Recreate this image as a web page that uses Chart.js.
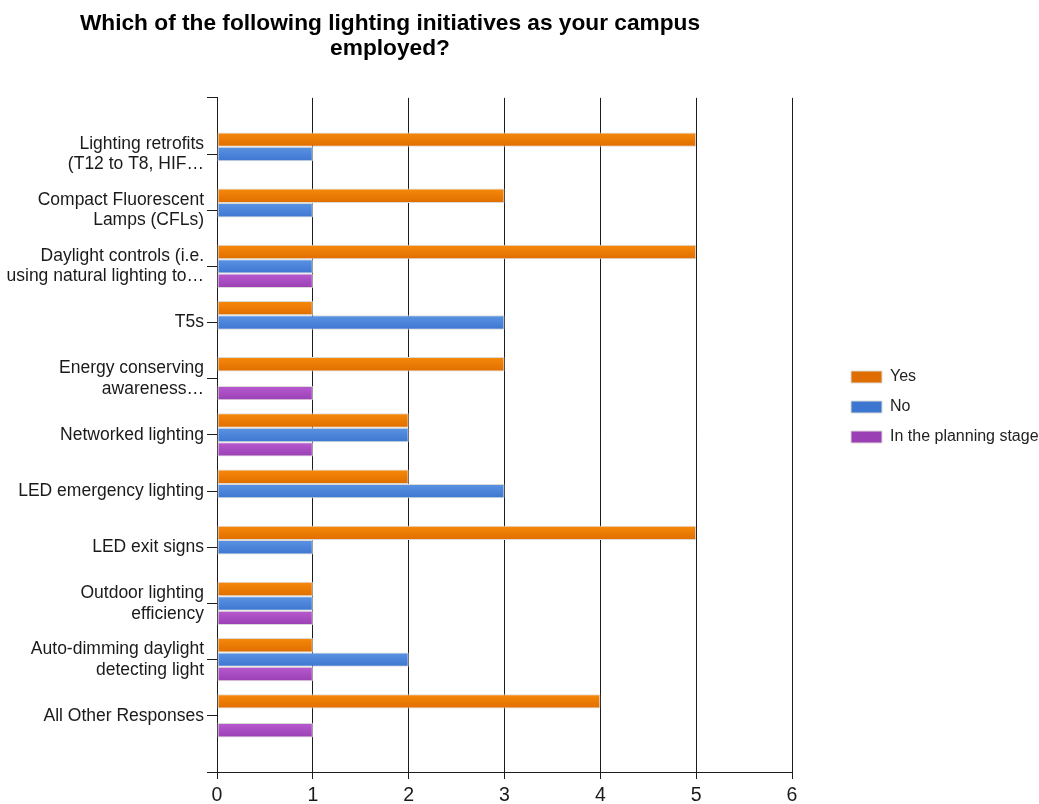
<!DOCTYPE html>
<html>
<head>
<meta charset="utf-8">
<title>Lighting initiatives</title>
<script src="https://cdn.jsdelivr.net/npm/chart.js@4.4.1/dist/chart.umd.min.js"></script>
<style>
  html, body { margin: 0; padding: 0; background: #ffffff; }
  #wrap { width: 1039px; height: 804px; }
</style>
</head>
<body>
<div id="wrap"><canvas id="chart" width="1039" height="804"></canvas></div>
<script>
// Survey answers per lighting initiative (null = no responses in that group)
const categories = [
  ['Lighting retrofits', '(T12 to T8, HIF…'],
  ['Compact Fluorescent', 'Lamps (CFLs)'],
  ['Daylight controls (i.e.', 'using natural lighting to…'],
  'T5s',
  ['Energy conserving', 'awareness…'],
  'Networked lighting',
  'LED emergency lighting',
  'LED exit signs',
  ['Outdoor lighting', 'efficiency'],
  ['Auto-dimming daylight', 'detecting light'],
  'All Other Responses'
];
const seriesNames = ['Yes', 'No', 'In the planning stage'];
const yesCounts      = [5, 3, 5, 1, 3, 2, 2, 5, 1, 1, 4];
const noCounts       = [1, 1, 1, 3, null, 2, 3, 1, 1, 2, null];
const planningCounts = [null, null, 1, null, 1, 1, null, null, 1, 1, 1];
const countTicks     = [0, 1, 2, 3, 4, 5, 6];

// Fill colours: top of bar, bottom of bar, legend swatch
const palette = [
  { top: '#f68a0a', bottom: '#e06d00', flat: '#ef7d00' },
  { top: '#5b93e3', bottom: '#3d76d0', flat: '#4a84da' },
  { top: '#b85ad0', bottom: '#9a3fb4', flat: '#a84bc4' }
];

const CAT_PCT = 0.77;
const FONT = 'Liberation Sans, Arial, sans-serif';
const AXIS_COLOR = '#1c1c1c';

// Vertical gradient for each bar, following its slot in the group
function barFill(colors) {
  return (ctx) => {
    const chart = ctx.chart;
    if (ctx.type !== 'data' || !chart.chartArea || !ctx.parsed) {
      return colors.flat;
    }
    const y = chart.scales.y;
    const pitch = Math.abs(y.getPixelForValue(1) - y.getPixelForValue(0));
    const n = chart.data.datasets.length;
    const thick = pitch * CAT_PCT / n;
    const top = y.getPixelForValue(ctx.parsed.y) - pitch * CAT_PCT / 2 + ctx.datasetIndex * thick;
    const g = chart.ctx.createLinearGradient(0, top, 0, top + thick);
    g.addColorStop(0, colors.top);
    g.addColorStop(1, colors.bottom);
    return g;
  };
}

function toPoints(values) {
  return values.map((v, i) => ({ y: i, x: v }));
}

const seriesValues = [yesCounts, noCounts, planningCounts];

const datasets = seriesValues.map((vals, k) => ({
  label: seriesNames[k],
  data: toPoints(vals),
  backgroundColor: barFill(palette[k]),
  borderColor: '#dcdad6',
  borderWidth: 1,
  borderSkipped: false,
  categoryPercentage: CAT_PCT,
  barPercentage: 1
}));

// Title centred over the plotting region; legend pushed out from the plot edge
const sideLayout = {
  id: 'sideLayout',
  afterLayout(chart) {
    if (chart.titleBlock) {
      chart.titleBlock.right = chart.chartArea.right - 12;
    }
    const lg = chart.legend;
    if (lg) {
      lg.left += 45; lg.right += 45;
      lg.top += 5; lg.bottom += 5;
    }
  }
};

new Chart(document.getElementById('chart'), {
  type: 'bar',
  data: { datasets },
  plugins: [sideLayout],
  options: {
    indexAxis: 'y',
    responsive: false,
    animation: false,
    devicePixelRatio: 1,
    layout: { padding: 0 },
    plugins: {
      title: {
        display: true,
        text: ['Which of the following lighting initiatives as your campus', 'employed?'],
        color: '#000000',
        font: { family: FONT, size: 22.7, weight: 'bold', lineHeight: 1.12 },
        padding: { top: 11, bottom: 36 }
      },
      legend: {
        position: 'right',
        align: 'center',
        labels: {
          boxWidth: 31,
          boxHeight: 12,
          padding: 14,
          color: '#222222',
          font: { family: FONT, size: 16 }
        }
      },
      tooltip: { enabled: false }
    },
    scales: {
      x: {
        type: 'linear',
        position: 'bottom',
        min: countTicks[0],
        max: countTicks[countTicks.length - 1],
        afterBuildTicks(scale) {
          scale.ticks = countTicks.map(v => ({ value: v }));
        },
        afterFit(scale) {
          scale.height = 32;
          scale.paddingRight = 247;
        },
        ticks: {
          color: '#1a1a1a',
          padding: 5,
          font: { family: FONT, size: 19.5 }
        },
        grid: {
          color: AXIS_COLOR,
          lineWidth: 1,
          drawTicks: true,
          tickLength: 7
        },
        border: { color: AXIS_COLOR, width: 1 }
      },
      y: {
        type: 'linear',
        reverse: true,
        offset: false,
        min: -1,
        max: categories.length,
        afterBuildTicks(scale) {
          const t = [];
          for (let v = -1; v <= categories.length; v++) t.push({ value: v });
          scale.ticks = t;
        },
        afterFit(scale) {
          scale.width = 217;
        },
        ticks: {
          autoSkip: false,
          color: '#1a1a1a',
          padding: 3,
          font: { family: FONT, size: 17.5, lineHeight: 1.17 },
          callback: (v) => (categories[v] !== undefined ? categories[v] : '')
        },
        grid: {
          offset: false,
          drawOnChartArea: false,
          drawTicks: true,
          tickLength: 10,
          color: AXIS_COLOR
        },
        border: { color: AXIS_COLOR, width: 1 }
      }
    }
  }
});
</script>
</body>
</html>
